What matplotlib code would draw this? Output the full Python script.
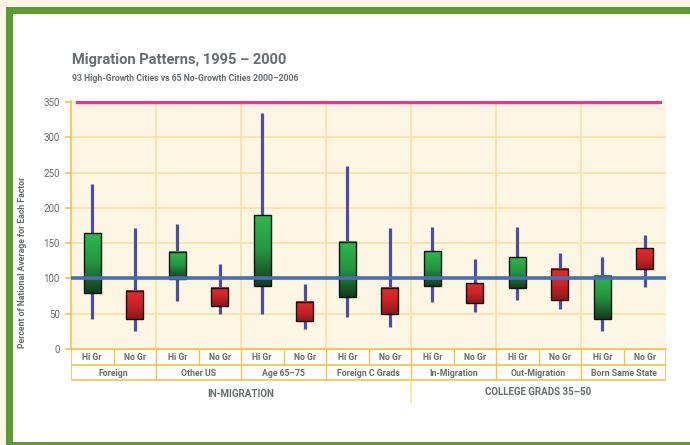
#!/usr/bin/env python3
"""Migration patterns 1995-2000: high-growth vs no-growth cities (floating bars)."""

import matplotlib
matplotlib.use("Agg")
import matplotlib.pyplot as plt
import numpy as np
from matplotlib.colors import to_rgb
from matplotlib.patches import Rectangle

plt.rcParams["font.family"] = ["Roboto", "DejaVu Sans"]

groups = ["Foreign", "Other US", "Age 65–75", "Foreign C Grads",
          "In-Migration", "Out-Migration", "Born Same State"]
series = ["Hi Gr", "No Gr"]
sections = ["IN-MIGRATION", "COLLEGE GRADS 35–50"]

# per bar, in order Hi Gr / No Gr for each group
whisker_hi = [234, 171, 177, 120, 334, 92, 259, 171, 173, 127, 173, 136, 130, 161]
box_hi     = [164,  82, 138,  87, 190, 66, 152,  86, 139,  93, 130, 113, 104, 143]
box_lo     = [ 80,  42,  99,  61,  90, 39,  73,  49,  90,  65,  87,  69,  42, 114]
whisker_lo = [ 42,  26,  68,  50,  50, 29,  45,  31,  67,  52,  69,  56,  25,  88]

yticks = [0, 50, 100, 150, 200, 250, 300, 350]

GREY = "#666c70"
ORANGE = "#f7c04a"
GRID = "#fbe0a4"
WHISKER = "#4c4f9e"
BASE = "#4a6db3"
MAGENTA = "#e8388c"
GREEN_STOPS = ["#2fb84e", "#23953f", "#163a1d"]
RED_STOPS = ["#e8292b", "#c82427", "#8a1a1e"]

W, H = 690, 445
fig = plt.figure(figsize=(W / 100, H / 100), dpi=100)
fig.patch.set_facecolor("#fdf6e6")


def fx(px):
    return px / W


def fy(py):
    return 1 - py / H


# green frame with white inside
fig.patches.append(Rectangle((fx(6), fy(445)), 1, fy(7) - fy(445), transform=fig.transFigure,
                             facecolor="#5e9a33", edgecolor="none", zorder=-3))
fig.patches.append(Rectangle((fx(12.5), fy(441.5)), 1, fy(13.5) - fy(441.5), transform=fig.transFigure,
                             facecolor="white", edgecolor="none", zorder=-2))

fig.text(fx(72), fy(64), "Migration Patterns, 1995 – 2000", fontsize=10.5,
         fontweight="bold", color=GREY, va="baseline")
fig.text(fx(72), fy(81), "93 High-Growth Cities vs 65 No-Growth Cities 2000–2006",
         fontsize=6.3, fontweight="bold", color=GREY, va="baseline")

left, right, top, bottom = 71, 666, 101, 349
ax = fig.add_axes([fx(left), fy(bottom), fx(right - left), fy(top) - fy(bottom)])
ax.set_facecolor("#fef6e5")
n = len(whisker_hi)
ax.set_xlim(0, n)
ax.set_ylim(0, 351.5)

for y in yticks[1:-1]:
    ax.axhline(y, color=GRID, lw=1.2, zorder=0)
for g in range(1, len(groups)):
    ax.axvline(2 * g, color=GRID, lw=1.2, zorder=0)


def gradient(stops, n=64):
    cols = np.array([to_rgb(c) for c in stops])
    t = np.linspace(0, 1, n)
    pos = np.linspace(0, 1, len(stops))
    arr = np.stack([np.interp(t, pos, cols[:, k]) for k in range(3)], axis=-1)
    return arr[:, None, :]


green_img = gradient(GREEN_STOPS)
red_img = gradient(RED_STOPS)

bw = 0.41
for i in range(n):
    xc = i + 0.5
    ax.vlines(xc, whisker_lo[i], whisker_hi[i], color=WHISKER, lw=2.3, zorder=2)
    img = green_img if i % 2 == 0 else red_img
    ax.imshow(img, extent=[xc - bw / 2, xc + bw / 2, box_lo[i], box_hi[i]],
              aspect="auto", origin="upper", zorder=3, interpolation="bilinear")
    ax.add_patch(Rectangle((xc - bw / 2, box_lo[i]), bw, box_hi[i] - box_lo[i],
                           facecolor="none", edgecolor="#111111", lw=1.0, zorder=4))

ax.set_xlim(0, n)
ax.set_ylim(0, 351.5)
ax.axhline(100, color=BASE, lw=2.6, zorder=5)
ax.axhline(350, xmin=0.01, xmax=0.99, color=MAGENTA, lw=2.4, zorder=5)

for s in ["top", "right"]:
    ax.spines[s].set_visible(False)
ax.spines["left"].set_color(ORANGE)
ax.spines["bottom"].set_color(ORANGE)
ax.spines["left"].set_linewidth(1.2)
ax.spines["bottom"].set_linewidth(1.2)
ax.set_xticks([])
ax.set_yticks(yticks)
ax.tick_params(axis="y", colors=ORANGE, length=4, width=1.2, pad=4, labelsize=7,
               labelcolor=GREY)
ax.set_ylabel("Percent of National Average for Each Factor", fontsize=6.3,
              fontweight="bold", color=GREY)
ax.yaxis.set_label_coords(fx(27 - left) / fx(right - left), 0.35)

# category table under the plot
tab = fig.add_axes([fx(left), fy(405), fx(right - left), fy(bottom) - fy(405)])
tab.set_xlim(0, n)
tab.set_ylim(405, bottom)  # pixel rows, top-down
tab.axis("off")
tab.patch.set_alpha(0)
row1, row2, row3 = 365, 380, 403
tab.hlines([bottom, row1, row2], 0, n, color=ORANGE, lw=1.2)
tab.vlines([0, n], bottom, row2, color=ORANGE, lw=1.2)
for i in range(1, n):
    tab.vlines(i, bottom, row1 if i % 2 else row2, color=ORANGE, lw=1.0)
tab.vlines(8, row2, row3, color=GRID, lw=1.2)
for i in range(n):
    tab.text(i + 0.5, (bottom + row1) / 2 + 0.5, series[i % 2], ha="center", va="center",
             fontsize=6.3, fontweight="bold", color=GREY)
for g, name in enumerate(groups):
    tab.text(2 * g + 1, (row1 + row2) / 2 + 0.5, name, ha="center", va="center",
             fontsize=6.3, fontweight="bold", color=GREY)
tab.text(4, 394, sections[0], ha="center", va="center", fontsize=7,
         fontweight="bold", color=GREY)
tab.text(11, 392, sections[1], ha="center", va="center", fontsize=7,
         fontweight="bold", color=GREY)

plt.savefig("out.png", dpi=100)
